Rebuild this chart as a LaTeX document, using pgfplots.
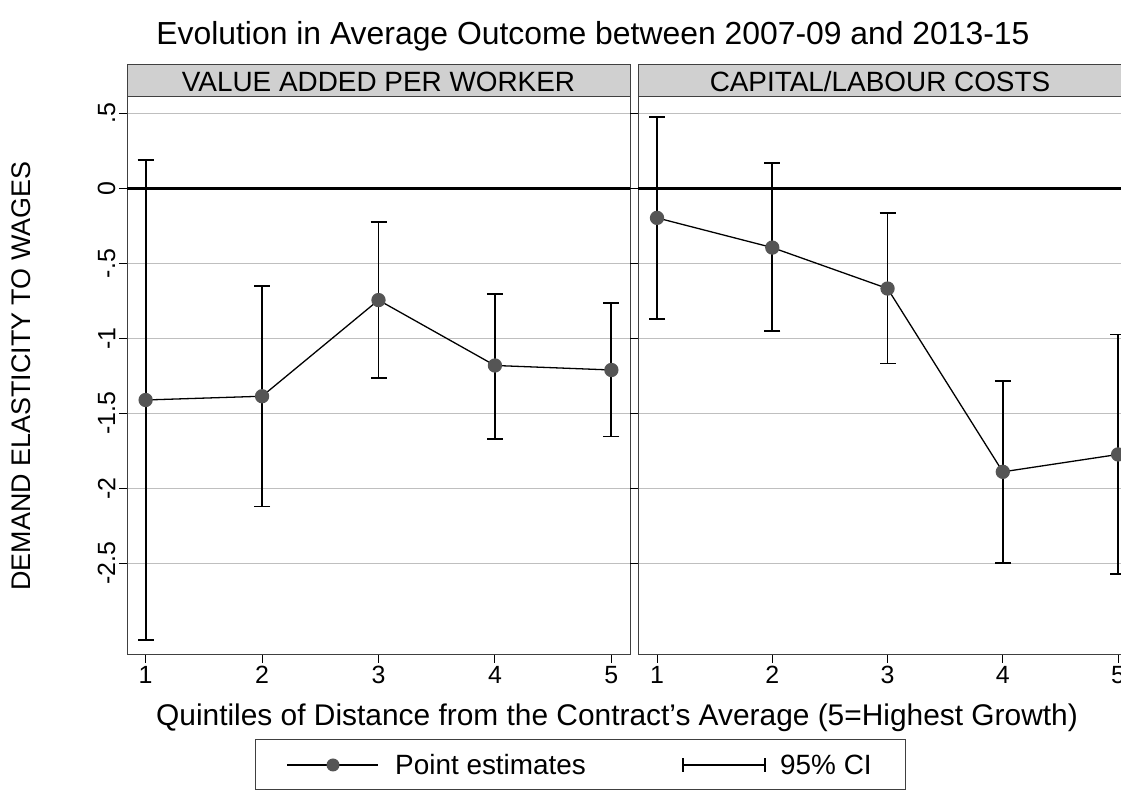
\documentclass[border=0pt]{standalone}
\usepackage{pgfplots}
\pgfplotsset{compat=1.18}
\usepackage{fontspec}
\setmainfont{Liberation Sans}
\definecolor{grid}{HTML}{E6E6E6}
\definecolor{strip}{HTML}{D0D0D0}
\definecolor{dot}{HTML}{555555}
\begin{document}
\begin{tikzpicture}[x=1bp,y=1bp]
\pgfplotsset{
 panel/.style={
  anchor=south west, scale only axis, height=558bp,
  ymin=-3.11, ymax=0.61,
  ytick={0.5,0,-0.5,-1,-1.5,-2,-2.5},
  tick align=outside, major tick length=8bp,
  tick style={black, line width=1pt},
  xtick={1,2,3,4,5}, xtick pos=bottom, ytick pos=left,
  xmajorgrids=false, ymajorgrids=true, grid style={grid, line width=1.5pt},
  axis line style={black!75, line width=1pt},
  tick label style={font=\fontsize{25}{25}\selectfont},
  /pgf/number format/assume math mode=true,
  clip=false,
 },
 est/.style={black, line width=1.3pt, mark=*, mark size=6.5bp,
   mark options={fill=dot, draw=dot},
   error bars/.cd, y dir=both, y explicit,
   error bar style={black, line width=1.8pt}, error mark options={black, rotate=90, mark size=8bp, line width=1.8pt},
 },
}
\begin{axis}[panel, at={(127bp,146bp)}, width=503bp, xmin=0.84, xmax=5.16,
  yticklabels={.5,0,-.5,-1,-1.5,-2,-2.5},
  yticklabel style={rotate=90, anchor=south},
  ylabel={DEMAND ELASTICITY TO WAGES},
  ylabel style={font=\fontsize{27}{27}\selectfont, at={(-0.185,0.5)}}]
\addplot[black, line width=2.5pt, forget plot] coordinates {(0.84,0) (5.16,0)};
\addplot[est] table[x=x,y=y,y error plus=ep,y error minus=em] {
x y ep em
1 -1.41 1.60 1.60
2 -1.385 0.735 0.735
3 -0.744 0.522 0.522
4 -1.18 0.475 0.49
5 -1.21 0.448 0.444
};
\end{axis}
\begin{axis}[panel, at={(638bp,146bp)}, width=500bp, xmin=0.835, xmax=5.173,
  yticklabels={}]
\addplot[black, line width=2.5pt, forget plot] coordinates {(0.835,0) (5.173,0)};
\addplot[est] table[x=x,y=y,y error plus=ep,y error minus=em] {
x y ep em
1 -0.196 0.672 0.676
2 -0.394 0.563 0.555
3 -0.667 0.503 0.50
4 -1.889 0.606 0.609
5 -1.773 0.80 0.795
};
\end{axis}
\draw[black!75, line width=1pt, fill=strip] (127,704) rectangle (630,736);
\draw[black!75, line width=1pt, fill=strip] (638,704) rectangle (1130,736);
\node[font=\fontsize{28}{28}\selectfont] at (378.5,719) {VALUE ADDED PER WORKER};
\node[font=\fontsize{28}{28}\selectfont] at (880,719) {CAPITAL/LABOUR COSTS};
\node[font=\fontsize{32}{32}\selectfont] at (593,765) {Evolution in Average Outcome between 2007-09 and 2013-15};
\node[font=\fontsize{30}{30}\selectfont] at (617,83) {Quintiles of Distance from the Contract's Average (5=Highest Growth)};
\draw[black!75, line width=1pt] (255,11) rectangle (905,61);
\draw[black, line width=1.3pt] (287,36) -- (378,36);
\fill[dot] (333,36) circle (6.5);
\node[anchor=west, font=\fontsize{28}{28}\selectfont, inner sep=0pt] at (395,36) {Point estimates};
\draw[black, line width=1.8pt] (683,36) -- (765,36);
\draw[black, line width=1.8pt] (683,29) -- (683,43);
\draw[black, line width=1.8pt] (765,29) -- (765,43);
\node[anchor=west, font=\fontsize{28}{28}\selectfont, inner sep=0pt] at (780,36) {95\% CI};
\pgfresetboundingbox
\path[use as bounding box] (0,0) rectangle (1121,801);
\end{tikzpicture}
\end{document}
